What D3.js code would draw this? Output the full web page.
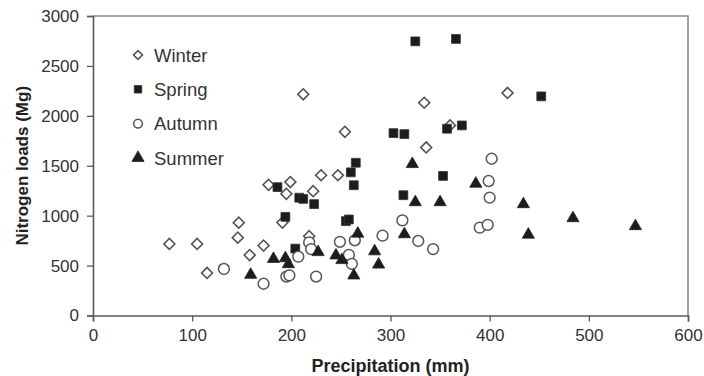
<!DOCTYPE html>
<html><head><meta charset="utf-8">
<script src="https://cdn.jsdelivr.net/npm/d3@7"></script>
<style>body{margin:0;background:#fff}svg{display:block}text{font-family:"Liberation Sans",Arial,sans-serif}</style>
</head><body>
<svg id="c" width="704" height="376"></svg>
<script>
const xTicks = [0,100,200,300,400,500,600];
const yTicks = [0,500,1000,1500,2000,2500,3000];
const seriesNames = ["Winter","Spring","Autumn","Summer"];

const winterX = [77,105,115,146,147,158,172,177,191,195,199,212,218,222,230,247,254,334,336,360,418];
const winterY = [717,717,426,780,930,605,700,1309,931,1219,1337,2216,795,1245,1405,1405,1840,2131,1683,1904,2229];

const springX = [186,194,204,208,212,223,255,258,260,263,265,303,313,314,325,353,357,366,372,452];
const springY = [1286,988,670,1180,1168,1116,945,962,1434,1305,1530,1827,1205,1817,2746,1398,1871,2770,1904,2195];

const autumnX = [132,172,195,198,207,218,220,225,249,258,261,264,292,312,328,343,390,398,400,399,402];
const autumnY = [466,318,390,402,590,732,665,390,738,607,517,753,800,953,747,665,880,908,1181,1347,1570];

const summerX = [159,182,194,197,227,245,251,263,267,284,288,314,322,325,350,386,434,439,484,547];
const summerY = [418,577,584,524,645,612,565,411,830,653,520,824,1527,1145,1145,1330,1125,820,985,905];

const svg = d3.select("#c");
const x = d3.scaleLinear().domain([0,600]).range([93,688]);
const y = d3.scaleLinear().domain([0,3000]).range([315.5,16]);
const axisColor = "#5a5a5a";

// frame (top and right)
svg.append("path").attr("d", `M${x(0)},${y(3000)}H${x(600)}V${y(0)}`)
  .attr("fill","none").attr("stroke","#8a8a8a").attr("stroke-width",1.6);

const gx = svg.append("g").attr("transform",`translate(0,${y(0)})`)
  .call(d3.axisBottom(x).tickValues(xTicks).tickSize(6).tickPadding(5).tickFormat(d3.format("d")));
const gy = svg.append("g").attr("transform",`translate(${x(0)},0)`)
  .call(d3.axisLeft(y).tickValues(yTicks).tickSize(6).tickPadding(5).tickFormat(d3.format("d")));
[gx,gy].forEach(g=>{
  g.select(".domain").attr("stroke",axisColor).attr("stroke-width",1.6);
  g.selectAll(".tick line").attr("stroke",axisColor).attr("stroke-width",1.3);
  g.selectAll("text").attr("font-size",17).attr("fill","#333").attr("font-family","Liberation Sans, Arial, sans-serif");
});
gy.selectAll("text").attr("dx",-3);
gx.selectAll("text").attr("dy","0.85em");

svg.append("text").attr("x",(x(0)+x(600))/2).attr("y",372).attr("text-anchor","middle")
  .attr("font-size",18).attr("font-weight","bold").attr("fill","#222").text("Precipitation (mm)");
svg.append("text").attr("transform",`translate(28,${(y(0)+y(3000))/2}) rotate(-90)`).attr("text-anchor","middle")
  .attr("font-size",17).attr("font-weight","bold").attr("fill","#222").text("Nitrogen loads (Mg)");

const sym = {
  Winter: d3.symbol().type(d3.symbolSquare).size(60)(),
  Spring: d3.symbol().type(d3.symbolSquare).size(78)(),
  Autumn: d3.symbol().type(d3.symbolCircle).size(92)(),
  Summer: d3.symbol().type(d3.symbolTriangle).size(64)()
};
const style = {
  Winter: {fill:"#fff", stroke:"#555", sw:1.6, rot:45},
  Spring: {fill:"#1c1c1c", stroke:"#333", sw:0.8, rot:0},
  Autumn: {fill:"#fff", stroke:"#555", sw:1.5, rot:0},
  Summer: {fill:"#1c1c1c", stroke:"#222", sw:0.8, rot:0}
};
const data = {
  Winter: winterX.map((v,i)=>[v,winterY[i]]),
  Spring: springX.map((v,i)=>[v,springY[i]]),
  Autumn: autumnX.map((v,i)=>[v,autumnY[i]]),
  Summer: summerX.map((v,i)=>[v,summerY[i]])
};
seriesNames.forEach(s=>{
  const st = style[s];
  svg.append("g").selectAll("path").data(data[s]).join("path")
    .attr("d", sym[s])
    .attr("transform", d=>`translate(${x(d[0])},${y(d[1]) + (s==="Summer"?1:0)}) rotate(${st.rot})`)
    .attr("fill", st.fill).attr("stroke", st.stroke).attr("stroke-width", st.sw);
});

// legend
const lg = svg.append("g");
const lsym = {
  Winter: d3.symbol().type(d3.symbolSquare).size(40)(),
  Spring: d3.symbol().type(d3.symbolSquare).size(56)(),
  Autumn: d3.symbol().type(d3.symbolCircle).size(60)(),
  Summer: d3.symbol().type(d3.symbolTriangle).size(64)()
};
seriesNames.forEach((s,i)=>{
  const yy = 55 + i*34.3;
  const st = style[s];
  lg.append("path").attr("d", lsym[s]).attr("transform",`translate(138,${yy}) rotate(${st.rot})`)
    .attr("fill", st.fill).attr("stroke", st.stroke).attr("stroke-width", st.sw);
  lg.append("text").attr("x",154).attr("y",yy).attr("dy","0.36em").attr("font-size",18.5).attr("fill","#333").text(s);
});
</script>
</body></html>
